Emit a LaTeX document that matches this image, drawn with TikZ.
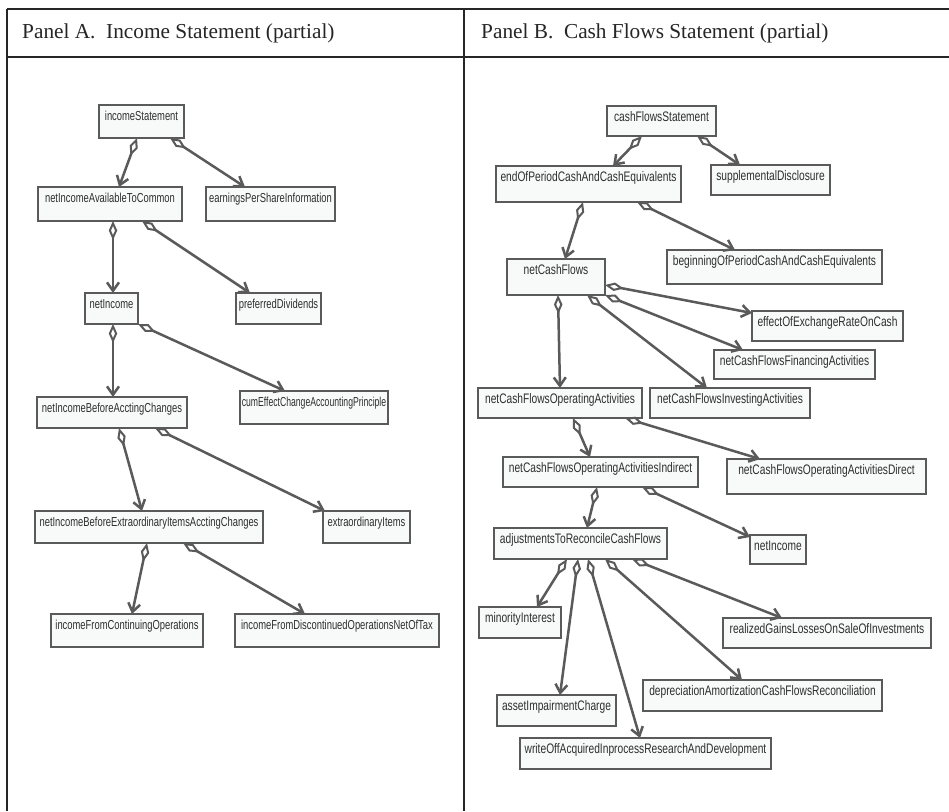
\documentclass[tikz,border=0pt]{standalone}
\usepackage{fontspec}
\usetikzlibrary{arrows.meta}
\newfontfamily\hdrfont{Liberation Serif}
\newfontfamily\umlfontA[FakeStretch=0.723]{Liberation Sans}
\newfontfamily\umlfontNarrow[FakeStretch=0.665]{Liberation Sans}
\newfontfamily\umlfontB[FakeStretch=0.74]{Liberation Sans}
\definecolor{edgegray}{HTML}{5A5A5A}
\definecolor{boxfill}{HTML}{F8F9F9}
\definecolor{boxtext}{HTML}{2E2E2E}
\tikzset{
  ub/.style={draw=edgegray, line width=2.8pt, fill=boxfill, anchor=north west,
    inner sep=0pt, outer sep=0pt, text height=15pt, align=center, text=boxtext},
  fontA/.style={font=\umlfontA\fontsize{13}{14}\selectfont},
  fontN/.style={font=\umlfontNarrow\fontsize{13}{14}\selectfont},
  fontB/.style={font=\umlfontB\fontsize{13.8}{15}\selectfont},
  agg/.style={draw=edgegray, line width=2.5pt,
    {Diamond[open, length=19pt, width=8.5pt, line width=2pt, fill=white]}-{Straight Barb[length=8.5pt, width=12pt]}},
  rule/.style={line width=1.1pt, draw=black!85},
  hdr/.style={anchor=base west, font=\hdrfont\fontsize{21.3}{23}\selectfont, text=black!85, inner sep=0pt}
}
% \umlbox[font style]{name}{x1}{y1}{x2}{y2}{text}
\newcommand\umlbox[7][fontA]{%
  \pgfmathsetmacro\bw{#5-#3}%
  \pgfmathsetmacro\bd{#6-#4-15}%
  \node[ub, #1, minimum width=\bw pt, text depth=\bd pt] (#2) at (#3,#4) {#7};}
% \aggr{source}{offset}{target}{offset}: offsets from the left edge of each box
\newcommand\aggr[4]{\draw[agg] ([xshift=#2pt]#1.south west) -- ([xshift=#4pt]#3.north west);}
\begin{document}
\begin{tikzpicture}[x=1pt, y=-1pt]
\useasboundingbox (0,0) rectangle (949,811);
\fill[white] (0,0) rectangle (949,811);

% table frame
\draw[rule] (7,9) -- (949,9);
\draw[rule] (7,57) -- (949,57);
\draw[rule] (7,9) -- (7,811);
\draw[rule] (464,9) -- (464,811);
\node[hdr] (ha) at (22,38) {Panel A.\ \ Income Statement (partial)};
\node[hdr] (hb) at (481,38) {Panel B.\ \ Cash Flows Statement (partial)};

% Panel A: income statement
\umlbox{is}{99}{105}{184}{138}{incomeStatement}
\umlbox{niac}{38}{187}{182}{221}{netIncomeAvailableToCommon}
\umlbox{epsi}{206}{187}{335}{221}{earningsPerShareInformation}
\umlbox{ni}{85}{293}{138}{324}{netIncome}
\umlbox{pd}{236}{293}{321}{324}{preferredDividends}
\umlbox[fontN]{cec}{240}{391}{388}{424}{cumEffectChangeAccountingPrinciple}
\umlbox{nibac}{37}{397}{187}{428}{netIncomeBeforeAcctingChanges}
\umlbox{nibe}{35}{511}{263}{543}{netIncomeBeforeExtraordinaryItemsAcctingChanges}
\umlbox{ei}{323}{511}{410}{543}{extraordinaryItems}
\umlbox{ifco}{51}{614}{203}{647}{incomeFromContinuingOperations}
\umlbox{ifdo}{235}{614}{439}{647}{incomeFromDiscontinuedOperationsNetOfTax}

\aggr{is}{38}{niac}{81}
\aggr{is}{71}{epsi}{39}
\aggr{niac}{75}{ni}{28}
\aggr{niac}{104}{pd}{14}
\aggr{ni}{28}{nibac}{76}
\draw[agg] (ni.south east) -- ([xshift=45pt]cec.north west);
\aggr{nibac}{82}{nibe}{107}
\aggr{nibac}{118}{ei}{2}
\aggr{nibe}{112}{ifco}{81}
\aggr{nibe}{148}{ifdo}{70}

% Panel B: cash flows statement
\umlbox[fontB]{cfs}{607}{106}{716}{136}{cashFlowsStatement}
\umlbox[fontB]{eop}{496}{166}{681}{202}{endOfPeriodCashAndCashEquivalents}
\umlbox[fontB]{sd}{711}{165}{830}{195}{supplementalDisclosure}
\umlbox[fontB]{ncf}{507}{259}{605}{295}{netCashFlows}
\umlbox[fontB]{bop}{667}{250}{882}{284}{beginningOfPeriodCashAndCashEquivalents}
\umlbox[fontB]{eer}{752}{311}{903}{341}{effectOfExchangeRateOnCash}
\umlbox[fontB]{ncffa}{714}{350}{875}{379}{netCashFlowsFinancingActivities}
\umlbox[fontB]{ncfoa}{478}{388}{642}{418}{netCashFlowsOperatingActivities}
\umlbox[fontB]{ncfia}{650}{388}{810}{418}{netCashFlowsInvestingActivities}
\umlbox[fontB]{ind}{503}{457}{698}{487}{netCashFlowsOperatingActivitiesIndirect}
\umlbox[fontB]{dir}{727}{459}{926}{494}{netCashFlowsOperatingActivitiesDirect}
\umlbox[fontB]{adj}{494}{528}{667}{559}{adjustmentsToReconcileCashFlows}
\umlbox[fontB]{nib}{750}{535}{806}{564}{netIncome}
\umlbox[fontB]{mi}{479}{607}{561}{638}{minorityInterest}
\umlbox[fontB]{rg}{723}{618}{931}{648}{realizedGainsLossesOnSaleOfInvestments}
\umlbox[fontB]{dep}{643}{680}{882}{711}{depreciationAmortizationCashFlowsReconciliation}
\umlbox[fontB]{aic}{497}{695}{616}{726}{assetImpairmentCharge}
\umlbox[fontB]{wo}{520}{738}{771}{769}{writeOffAcquiredInprocessResearchAndDevelopment}

\aggr{cfs}{35}{eop}{117}
\aggr{cfs}{90}{sd}{29}
\aggr{eop}{87}{ncf}{58}
\aggr{eop}{141}{bop}{68}
\aggr{ncf}{51}{ncfoa}{82}
\draw[agg] ([yshift=10pt]ncf.south east) -- ([yshift=-2pt]eer.north west);
\draw[agg] (ncf.south east) -- ([xshift=29pt]ncffa.north west);
\aggr{ncf}{80}{ncfia}{57}
\aggr{ncfoa}{95}{ind}{87}
\aggr{ncfoa}{147}{dir}{33}
\aggr{ind}{94}{adj}{93}
\draw[agg] ([xshift=139pt]ind.south west) -- ([yshift=-2pt]nib.north west);
\aggr{adj}{73}{mi}{58}
\aggr{adj}{84}{aic}{63}
\aggr{adj}{94}{wo}{120}
\aggr{adj}{111}{dep}{99}
\aggr{adj}{138}{rg}{59}
\end{tikzpicture}
\end{document}
